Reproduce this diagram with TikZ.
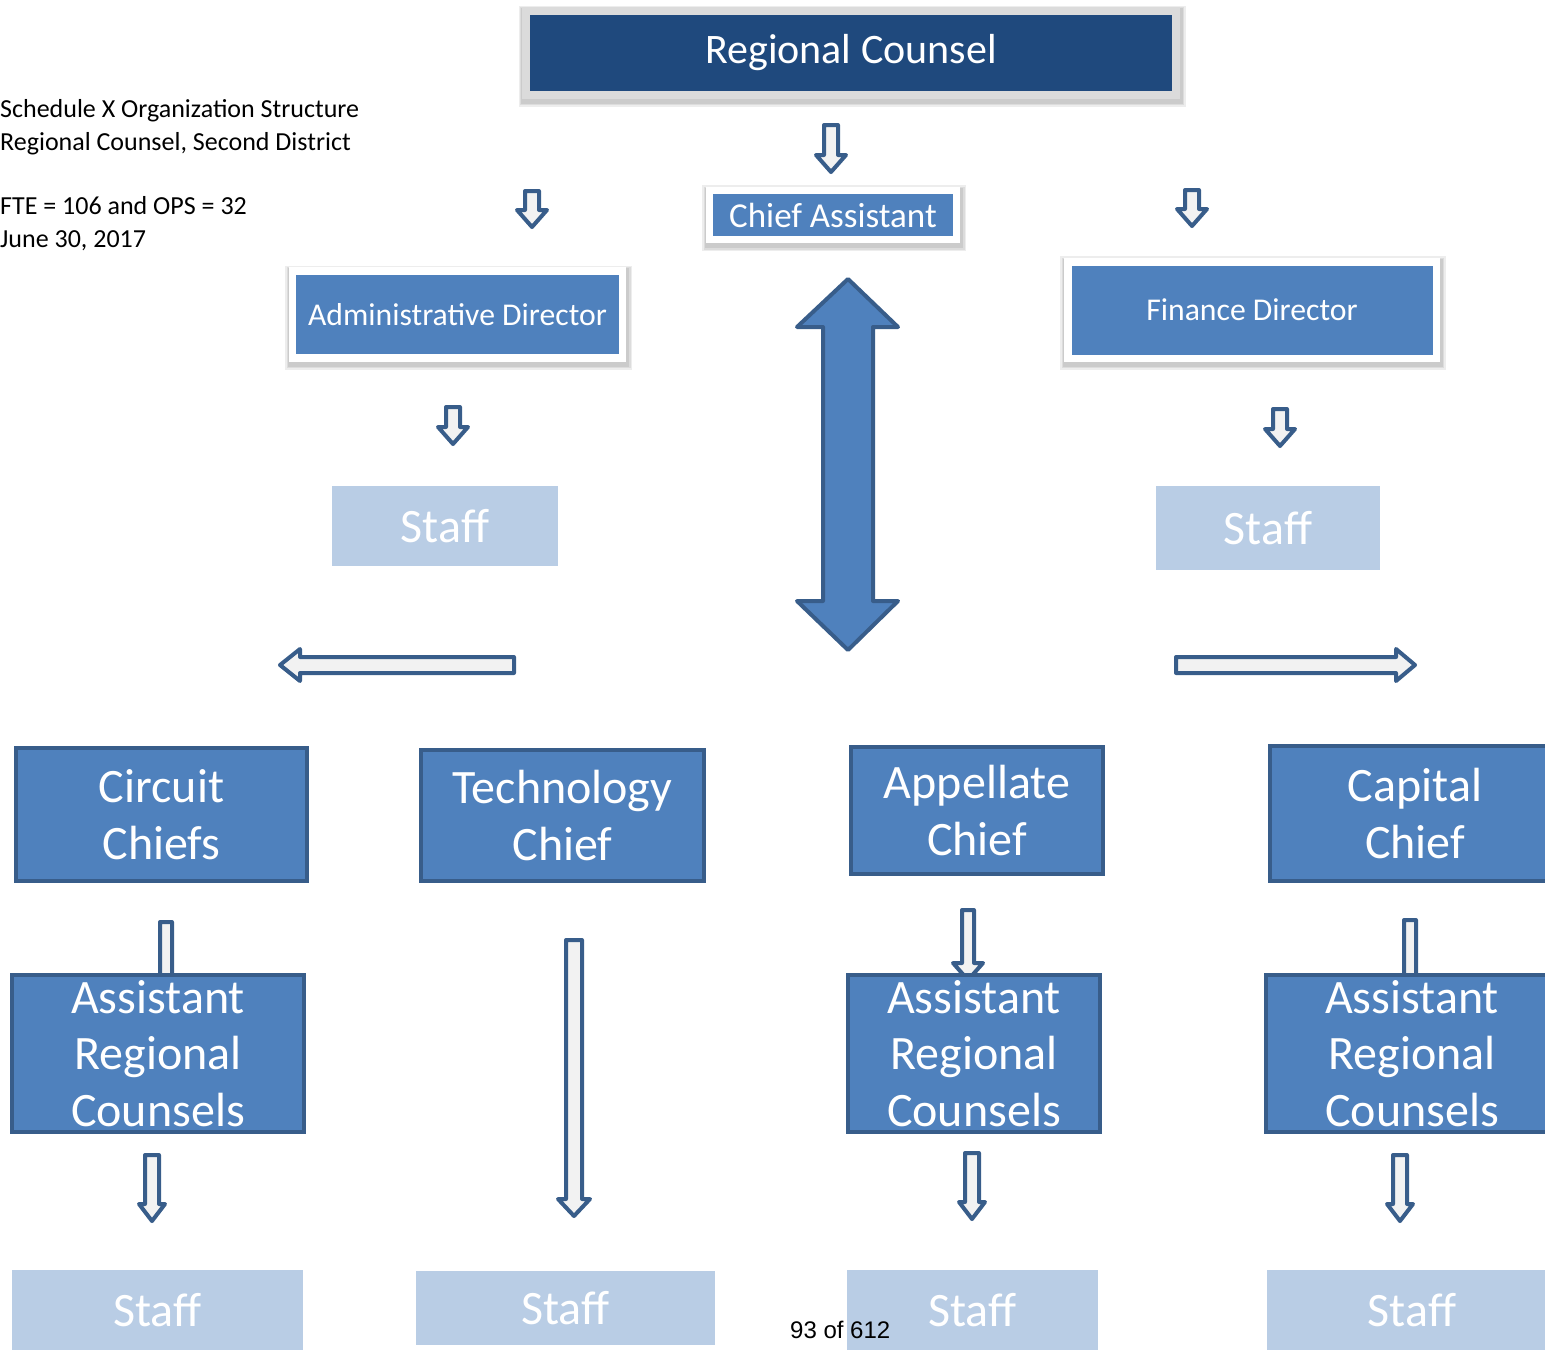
\documentclass[tikz,border=0pt]{standalone}
\usepackage{fontspec}
\setmainfont{Carlito}
\newfontfamily\arialfont{Liberation Sans}

\definecolor{boxblue}{HTML}{4F81BD}
\definecolor{darkblue}{HTML}{1F497D}
\definecolor{edgeblue}{HTML}{385D8A}
\definecolor{staffblue}{HTML}{B9CDE5}
\definecolor{arrowfill}{HTML}{F2F2F2}

\tikzset{
    softshadow/.style={
        preaction={draw=black, opacity=0.07, line width=17pt, transform canvas={xshift=1pt, yshift=-3pt}},
        preaction={draw=black, opacity=0.07, line width=14pt, transform canvas={xshift=1pt, yshift=-3pt}},
        preaction={draw=black, opacity=0.08, line width=11.5pt, transform canvas={xshift=1pt, yshift=-3pt}}},
    framebox/.style={softshadow, draw=white, line width=7.5pt, fill=boxblue, text=white,
        inner sep=0pt},
    chiefbox/.style={draw=edgeblue, line width=4pt, fill=boxblue, text=white,
        align=center, inner sep=0pt, font=\fontsize{48}{56.5}\selectfont},
    staffbox/.style={fill=staffblue, text=white, inner sep=0pt,
        font=\fontsize{48}{56}\selectfont},
    hollow/.style={draw=edgeblue, fill=arrowfill, line width=4pt, line join=round},
    bigarrow/.style={draw=edgeblue, fill=boxblue, line width=4pt, line join=round},
}

% x, top, tip, shaft half width, head half width
\newcommand{\flowdown}[5]{%
    \draw[hollow] (#1-#4,#2) -- (#1+#4,#2) -- (#1+#4,#3-17) -- (#1+#5,#3-17)
        -- (#1,#3) -- (#1-#5,#3-17) -- (#1-#4,#3-17) -- cycle;}

\begin{document}
\begin{tikzpicture}[x=1pt, y=-1pt]
    \useasboundingbox (0,0) rectangle (1545,1350);
    \clip (0,0) rectangle (1545,1350);

    % title block
    \node[anchor=base west, inner sep=0pt, align=left,
          font=\fontsize{26}{32.3}\selectfont] (title) at (0,247)
        {Schedule X Organization Structure\\Regional Counsel, Second District\\[32.3pt]
         FTE = 106 and OPS = 32\\June 30, 2017};

    % small arrows
    \flowdown{831}{125}{172}{7}{15}
    \flowdown{532}{191}{227}{7}{15}
    \flowdown{1192}{190}{226}{7}{15}
    \flowdown{453}{407}{444}{7}{15}
    \flowdown{1280}{409}{446}{7}{15}
    \flowdown{166}{922}{995}{6}{14}
    \flowdown{968}{910}{980}{6}{15}
    \flowdown{1410}{920}{995}{6}{14}
    \flowdown{152}{1155}{1221}{7}{13}
    \flowdown{972}{1153}{1219}{7}{13}
    \flowdown{1400}{1155}{1221}{7}{13}
    \flowdown{574}{940}{1216}{8}{16}

    % side arrows
    \draw[hollow] (280,665) -- (300,649) -- (300,657) -- (514,657) -- (514,673)
        -- (300,673) -- (300,681) -- cycle;
    \draw[hollow] (1415,665) -- (1396,649) -- (1396,657) -- (1176,657) -- (1176,673)
        -- (1396,673) -- (1396,681) -- cycle;

    % two-way arrow
    \draw[bigarrow] (848,279) -- (898,327) -- (873,327) -- (873,601) -- (898,601)
        -- (848,650) -- (797,601) -- (823,601) -- (823,327) -- (797,327) -- cycle;

    % top level
    \node[framebox, draw=gray!28, fill=darkblue, minimum width=650pt, minimum height=84pt,
          font=\fontsize{42}{50}\selectfont] (rc) at (851,53) {Regional Counsel};
    \node[framebox, minimum width=247pt, minimum height=49pt,
          font=\fontsize{35}{42}\selectfont] (ca) at (833,215) {Chief Assistant};
    \node[framebox, minimum width=330pt, minimum height=87pt,
          font=\fontsize{31.7}{38}\selectfont] (adm) at (457.5,314.5) {Administrative Director};
    \node[framebox, minimum width=368.5pt, minimum height=96.5pt,
          font=\fontsize{31.7}{38}\selectfont] (fin) at (1252,310) {Finance Director};

    \node[staffbox, minimum width=226pt, minimum height=80pt] (admstaff) at (445,526) {Staff};
    \node[staffbox, minimum width=224pt, minimum height=84pt] (finstaff) at (1268,528) {Staff};

    % chiefs
    \node[chiefbox, minimum width=291pt, minimum height=133pt] (cir) at (161.5,814.5) {Circuit\\Chiefs};
    \node[chiefbox, minimum width=283pt, minimum height=131pt] (tech) at (562.5,815.5) {Technology\\Chief};
    \node[chiefbox, minimum width=252pt, minimum height=127pt] (app) at (977,810.5) {Appellate\\Chief};
    \node[chiefbox, minimum width=290pt, minimum height=135pt] (cap) at (1415,813.5) {Capital\\Chief};

    % assistant regional counsels
    \node[chiefbox, minimum width=292pt, minimum height=157pt] (cirarc) at (158,1053.5) {Assistant\\Regional\\Counsels};
    \node[chiefbox, minimum width=252pt, minimum height=157pt] (apparc) at (974,1053.5) {Assistant\\Regional\\Counsels};
    \node[chiefbox, minimum width=292pt, minimum height=157pt] (caparc) at (1412,1053.5) {Assistant\\Regional\\Counsels};

    % bottom staff
    \node[staffbox, minimum width=291pt, minimum height=80pt] (cirstaff) at (157.5,1310) {Staff};
    \node[staffbox, minimum width=299pt, minimum height=74pt] (techstaff) at (565.5,1308) {Staff};
    \node[staffbox, minimum width=251pt, minimum height=80pt] (appstaff) at (972.5,1310) {Staff};
    \node[staffbox, minimum width=290pt, minimum height=80pt] (capstaff) at (1412,1310) {Staff};

    \node[anchor=base west, inner sep=0pt, font=\arialfont\fontsize{24}{28}\selectfont]
        (page) at (790,1338) {93 of 612};
\end{tikzpicture}
\end{document}
